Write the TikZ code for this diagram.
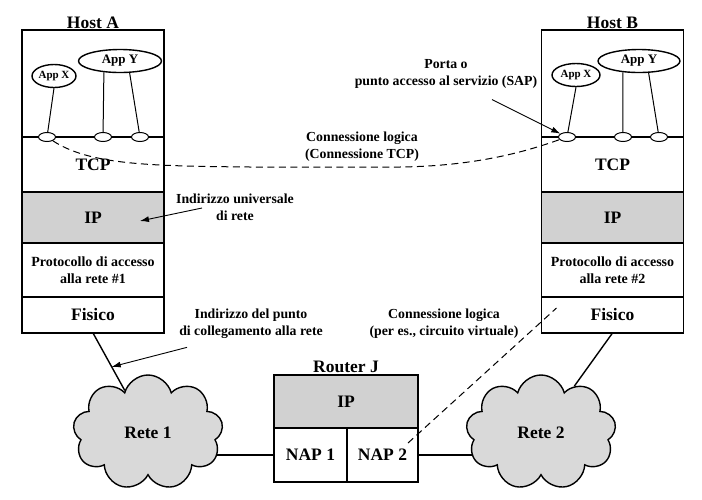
\documentclass[tikz,border=0pt]{standalone}
\usepackage{fontspec}
\setmainfont{Liberation Serif}
\usetikzlibrary{positioning,calc,backgrounds,shapes.geometric,shapes.symbols,arrows.meta}

\begin{document}
\begin{tikzpicture}[x=1pt, y=-1pt,
        layer/.style={draw, line width=1.4pt, minimum width=142pt, inner sep=0pt, outer sep=0pt,
            font=\fontsize{17.5}{20}\selectfont\bfseries},
        iplayer/.style={layer, fill=black!18},
        protolayer/.style={layer, align=center, font=\fontsize{14}{17}\selectfont\bfseries},
        app/.style={ellipse, draw, line width=1.4pt, inner sep=0pt, minimum height=23pt},
        sap/.style={ellipse, draw, fill=white, line width=1pt, inner sep=0pt,
            minimum width=17pt, minimum height=9pt},
        net/.style={cloud, draw, fill=black!15, line width=1.4pt, cloud puffs=9, cloud ignores aspect,
            minimum width=150pt, minimum height=115pt, font=\fontsize{17.5}{20}\selectfont\bfseries},
        title/.style={inner sep=1pt, font=\fontsize{17.5}{20}\selectfont\bfseries},
        note/.style={align=center, font=\fontsize{13.8}{17}\selectfont\bfseries},
        link/.style={line width=1.4pt},
        logic/.style={line width=1pt, dash pattern=on 7pt off 4.5pt},
        arr/.style={-{Latex[length=9pt,width=6pt]}, line width=0.9pt}]

    \useasboundingbox (0,0) rectangle (702,499);

    % Host A
    \node[layer, minimum height=107pt] (appA) at (93,83.5) {};
    \node[title, above=0pt of appA] {Host A};
    \node[layer, minimum height=55pt, below=0pt of appA] (tcpA) {TCP};
    \node[iplayer, minimum height=51pt, below=0pt of tcpA] (ipA) {IP};
    \node[protolayer, minimum height=54pt, below=0pt of ipA] (protoA) {Protocollo di accesso\\alla rete \#1};
    \node[layer, minimum height=36pt, below=0pt of protoA] (fisA) {Fisico};

    \node[app, minimum width=44pt, font=\fontsize{11}{13}\selectfont\bfseries] (appXA) at (54,76) {App X};
    \node[app, minimum width=83pt, font=\fontsize{13}{15}\selectfont\bfseries] (appYA) at (120,61) {App Y};
    \node[sap] (sapA1) at (47,137) {};
    \node[sap] (sapA2) at (103,137) {};
    \node[sap] (sapA3) at (140,137) {};
    \draw[line width=1pt] (appXA.south) -- (sapA1);
    \draw[line width=1pt] (appYA.-145) -- (sapA2);
    \draw[line width=1pt] (appYA.-51) -- (sapA3);

    % Host B
    \node[layer, minimum height=107pt] (appB) at (612.5,83.5) {};
    \node[title, above=0pt of appB] {Host B};
    \node[layer, minimum height=55pt, below=0pt of appB] (tcpB) {TCP};
    \node[iplayer, minimum height=51pt, below=0pt of tcpB] (ipB) {IP};
    \node[protolayer, minimum height=54pt, below=0pt of ipB] (protoB) {Protocollo di accesso\\alla rete \#2};
    \node[layer, minimum height=36pt, below=0pt of protoB] (fisB) {Fisico};

    \node[app, minimum width=48pt, font=\fontsize{11}{13}\selectfont\bfseries] (appXB) at (576,75) {App X};
    \node[app, minimum width=82pt, font=\fontsize{13}{15}\selectfont\bfseries] (appYB) at (639,61) {App Y};
    \node[sap] (sapB1) at (567,137) {};
    \node[sap] (sapB2) at (623,137) {};
    \node[sap] (sapB3) at (659,137) {};
    \draw[line width=1pt] (appXB.south) -- (sapB1);
    \draw[line width=1pt] (appYB.-145) -- (sapB2);
    \draw[line width=1pt] (appYB.-51) -- (sapB3);

    % Router J
    \node[iplayer, minimum width=144pt, minimum height=53pt] (rtIP) at (346,401.5) {IP};
    \node[title, above=1pt of rtIP] {Router J};
    \node[layer, minimum width=73pt, minimum height=54pt, anchor=north west] (nap1) at (rtIP.south west) {NAP 1};
    \node[layer, minimum width=71pt, minimum height=54pt, right=0pt of nap1] (nap2) {NAP 2};

    % reti
    \node[net] (rete1) at (148,432.5) {Rete 1};
    \node[net] (rete2) at (541,432.5) {Rete 2};

    \begin{scope}[on background layer]
        \draw[link] (fisA.south) -- (rete1);
        \draw[link] (fisB.south) -- (rete2);
        \draw[link] (nap1.west) -- (rete1.center |- nap1.west);
        \draw[link] (nap2.east) -- (rete2.center |- nap2.east);
    \end{scope}
    \coordinate (linkA) at ($(fisA.south)!0.34!(rete1.center)$);

    % connessioni logiche
    \draw[logic] (sapA1) .. controls (90,165) and (150,166) .. (250,167)
        -- (400,167) .. controls (480,166) and (530,150) .. (sapB1);
    \draw[logic] ([shift={(-10,15)}]nap2.north east) -- ([shift={(15,11)}]fisB.north west);

    % etichette
    \node[note] (lblTCP) at (362,146.5) {Connessione logica\\(Connessione TCP)};
    \node[note] (lblSAP) at (446,73.5) {Porta o\\punto accesso al servizio (SAP)};
    \node[note] (lblIP) at (235,207) {Indirizzo universale\\di rete};
    \node[note] (lblLink) at (251,324) {Indirizzo del punto\\di collegamento alla rete};
    \node[note] (lblVC) at (444,323.5) {Connessione logica\\(per es., circuito virtuale)};

    \draw[arr] ([shift={(46,8)}]lblSAP.south) -- (sapB1);
    \draw[arr] ([shift={(-33,1)}]lblIP.center) -- ([shift={(-24,3.5)}]ipA.east);
    \draw[arr] ([shift={(-64,5)}]lblLink.south) -- (linkA);
\end{tikzpicture}
\end{document}
